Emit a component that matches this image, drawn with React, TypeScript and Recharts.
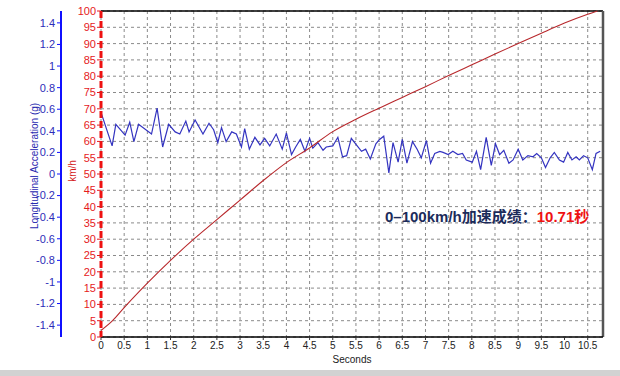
import React from 'react';
import { LineChart, Line, XAxis, YAxis, CartesianGrid, ReferenceLine } from 'recharts';

// speed trace (km/h) vs time (s)
const speedTime = [0, 0.25, 0.5, 1, 1.5, 2, 2.5, 3, 3.5, 4, 4.5, 5, 5.5, 6, 6.5, 7, 7.5, 8, 8.5, 9, 9.5, 10, 10.5, 10.71];
const speedKmh = [2, 5, 9, 16.5, 23.5, 30, 36, 42, 48, 53.5, 58, 63, 66.8, 70.2, 73.5, 76.8, 80.2, 83.5, 86.8, 90, 93.2, 96.3, 99, 100];

// longitudinal acceleration (g) vs time (s)
const accTime = [
  0, 0.24, 0.32, 0.52, 0.62, 0.71, 0.81, 1.09, 1.21, 1.33, 1.46, 1.6, 1.7, 1.83, 1.9, 2.03, 2.2, 2.33, 2.43, 2.52,
  2.6, 2.7, 2.82, 2.92, 3.03, 3.1, 3.2, 3.32, 3.43, 3.53, 3.64, 3.78, 3.91, 4.0, 4.11, 4.2, 4.3, 4.4, 4.5, 4.57,
  4.68, 4.79, 4.86, 5.0, 5.11, 5.21, 5.3, 5.4, 5.51, 5.62, 5.71, 5.81, 5.93, 6.01, 6.1, 6.21, 6.3, 6.41, 6.5, 6.6,
  6.72, 6.82, 6.91, 7.02, 7.11, 7.2, 7.31, 7.38, 7.49, 7.59, 7.7, 7.8, 7.88, 8.01, 8.1, 8.19, 8.31, 8.42, 8.51, 8.6,
  8.69, 8.8, 8.89, 9.0, 9.1, 9.21, 9.32, 9.4, 9.5, 9.59, 9.69, 9.78, 9.89, 9.98, 10.07, 10.16, 10.25, 10.32, 10.41, 10.5,
  10.6, 10.68, 10.77,
];
const accG = [
  0.57, 0.26, 0.46, 0.36, 0.48, 0.3, 0.46, 0.37, 0.61, 0.25, 0.46, 0.39, 0.37, 0.49, 0.39, 0.5, 0.37, 0.47, 0.41, 0.29,
  0.43, 0.3, 0.39, 0.37, 0.25, 0.42, 0.23, 0.34, 0.27, 0.33, 0.26, 0.37, 0.23, 0.38, 0.18, 0.25, 0.32, 0.21, 0.33, 0.24,
  0.29, 0.22, 0.25, 0.26, 0.34, 0.16, 0.17, 0.33, 0.27, 0.21, 0.23, 0.14, 0.28, 0.32, 0.35, 0.01, 0.29, 0.11, 0.32, 0.1,
  0.3, 0.23, 0.15, 0.31, 0.1, 0.19, 0.21, 0.2, 0.18, 0.21, 0.18, 0.19, 0.13, 0.11, 0.21, 0.04, 0.34, 0.08, 0.28, 0.18,
  0.22, 0.1, 0.13, 0.23, 0.13, 0.17, 0.16, 0.19, 0.15, 0.06, 0.15, 0.2, 0.13, 0.11, 0.2, 0.13, 0.16, 0.13, 0.17, 0.15,
  0.04, 0.19, 0.21,
];

const xTicks = [0, 0.5, 1, 1.5, 2, 2.5, 3, 3.5, 4, 4.5, 5, 5.5, 6, 6.5, 7, 7.5, 8, 8.5, 9, 9.5, 10, 10.5];
const speedTicks = [0, 5, 10, 15, 20, 25, 30, 35, 40, 45, 50, 55, 60, 65, 70, 75, 80, 85, 90, 95, 100];
const accTicks = [-1.4, -1.2, -1, -0.8, -0.6, -0.4, -0.2, 0, 0.2, 0.4, 0.6, 0.8, 1, 1.2, 1.4];
const X_MAX = 10.83;

const speedData = speedTime.map((t, i) => ({ t, v: speedKmh[i] }));
const accData = accTime.map((t, i) => ({ t, g: accG[i] }));

const FONT = '"Liberation Sans", Arial, sans-serif';
const fmt = (n: number) => String(Math.round(n * 10) / 10);

export default function App() {
  return (
    <div style={{ position: 'absolute', left: 0, top: 0, width: 620, height: 376, background: '#fff', fontFamily: FONT }}>
      <LineChart width={620} height={376} margin={{ top: 11, right: 17, bottom: 9, left: 21 }}>
        <CartesianGrid yAxisId="kmh" stroke="#8a8a8a" strokeDasharray="3 3" />
        <XAxis
          dataKey="t"
          type="number"
          domain={[0, X_MAX]}
          ticks={xTicks}
          tickFormatter={fmt}
          allowDataOverflow
          height={30}
          tickSize={3}
          tick={{ fontSize: 10, fill: '#222', fontFamily: FONT }}
          axisLine={{ stroke: '#000', strokeWidth: 1.5 }}
          tickLine={{ stroke: '#333' }}
          label={{ value: 'Seconds', position: 'insideBottom', offset: 4, fontSize: 10, fill: '#222', fontFamily: FONT }}
        />
        <YAxis
          yAxisId="kmh"
          orientation="left"
          width={40}
          type="number"
          domain={[0, 100]}
          ticks={speedTicks}
          interval={0}
          tickSize={4}
          tickMargin={1}
          tick={{ fontSize: 11, fill: '#e5191c', fontFamily: FONT }}
          axisLine={{ stroke: '#ee1111', strokeWidth: 3, strokeDasharray: '7 3' }}
          tickLine={{ stroke: '#e5191c' }}
          label={{ value: 'km/h', angle: -90, position: 'center', dx: -9, dy: -3, fontSize: 10, fill: '#d41a1a', fontFamily: FONT }}
        />
        <YAxis
          yAxisId="lon"
          orientation="left"
          width={40}
          type="number"
          domain={[-1.51, 1.51]}
          ticks={accTicks}
          interval={0}
          tickFormatter={fmt}
          tickSize={4}
          tickMargin={2}
          tick={{ fontSize: 11, fill: '#2d2db8', fontFamily: FONT }}
          axisLine={{ stroke: '#1010ff', strokeWidth: 2 }}
          tickLine={{ stroke: '#1010ff' }}
          label={{ value: 'Longitudinal Acceleration (g)', angle: -90, position: 'center', dx: -7, dy: -8, fontSize: 10, fill: '#2a2ab0', fontFamily: FONT }}
        />
        <ReferenceLine yAxisId="kmh" y={100} stroke="#000" strokeWidth={1.5} />
        <ReferenceLine yAxisId="kmh" x={X_MAX} stroke="#555" strokeWidth={2.5} />
        <Line
          yAxisId="lon"
          data={accData}
          dataKey="g"
          type="linear"
          stroke="#3434c0"
          strokeWidth={1.2}
          dot={false}
          isAnimationActive={false}
        />
        <Line
          yAxisId="kmh"
          data={speedData}
          dataKey="v"
          type="monotone"
          stroke="#b8282c"
          strokeWidth={1.1}
          dot={false}
          isAnimationActive={false}
        />
      </LineChart>
      <div
        style={{
          position: 'absolute',
          left: 385,
          top: 207,
          fontSize: 15,
          fontWeight: 'bold',
          color: '#1c2b5a',
          whiteSpace: 'nowrap',
          fontFamily: '"Liberation Sans", Arial, "Noto Sans CJK SC", sans-serif',
          lineHeight: '20px',
        }}
      >
        0–100km/h加速成绩：<span style={{ color: '#ee1111' }}>10.71秒</span>
      </div>
      <div style={{ position: 'absolute', left: 0, top: 370, width: 620, height: 6, background: '#d2d2d2' }} />
    </div>
  );
}
